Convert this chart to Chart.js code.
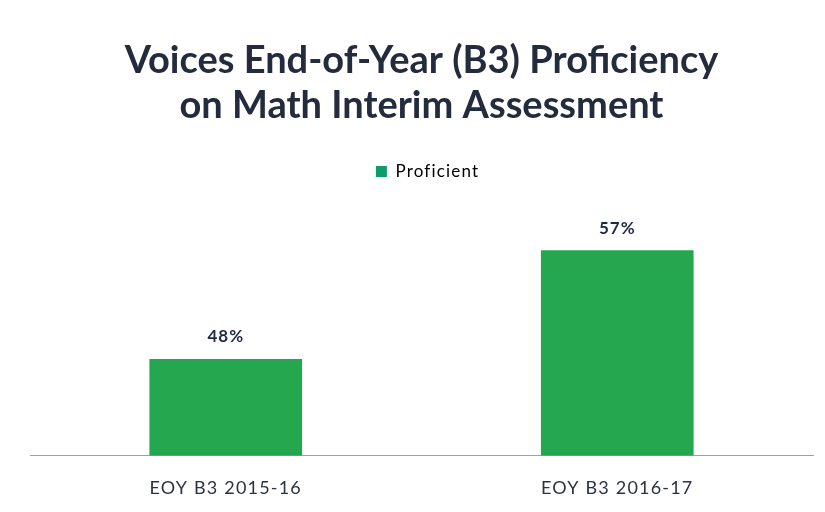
<!DOCTYPE html>
<html lang="en">
<head>
<meta charset="UTF-8">
<title>Voices EOY Proficiency</title>
<script src="https://cdn.jsdelivr.net/npm/chart.js"></script>
<style>
  html, body { margin:0; padding:0; background:#fff; }
  #wrap { width:825px; height:512px; }
</style>
</head>
<body>
<div id="wrap"><canvas id="chart"></canvas></div>
<script>
const categories = ['EOY B3 2015-16', 'EOY B3 2016-17'];
const proficient = [48, 57];
const titleLines = ['Voices End-of-Year (B3) Proficiency', 'on Math Interim Assessment'];

// scanned original has loosely spaced small text
const spacing = {
  id: 'spacing',
  beforeDraw(chart) {
    chart.ctx.letterSpacing = '1.2px';
  }
};

// title drawn by hand so it keeps normal spacing
const bigTitle = {
  id: 'bigTitle',
  afterDraw(chart) {
    const ctx = chart.ctx;
    ctx.save();
    ctx.letterSpacing = '0px';
    ctx.font = 'bold 38px Lato';
    ctx.fillStyle = '#232b3c';
    ctx.textAlign = 'center';
    ctx.textBaseline = 'middle';
    titleLines.forEach((line, i) => {
      ctx.fillText(line, chart.width / 2 + 9, 61 + i * 45);
    });
    ctx.restore();
  }
};

// % labels above each bar
const valueLabels = {
  id: 'valueLabels',
  afterDatasetsDraw(chart) {
    const ctx = chart.ctx;
    const meta = chart.getDatasetMeta(0);
    ctx.save();
    ctx.letterSpacing = '1px';
    ctx.font = 'bold 17px Lato';
    ctx.fillStyle = '#1e2a44';
    ctx.textAlign = 'center';
    ctx.textBaseline = 'middle';
    meta.data.forEach((bar, i) => {
      ctx.fillText(proficient[i] + '%', bar.x, bar.y - 22);
    });
    ctx.restore();
  }
};

new Chart(document.getElementById('chart'), {
  type: 'bar',
  data: {
    labels: categories,
    datasets: [{
      label: 'Proficient',
      data: proficient,
      backgroundColor: '#24a74f',
      categoryPercentage: 1,
      barPercentage: 0.39
    }]
  },
  options: {
    responsive: true,
    maintainAspectRatio: false,
    animation: false,
    layout: { padding: { left: 30, right: 12, top: 153, bottom: -1 } },
    plugins: {
      title: { display: false },
      legend: {
        display: true,
        labels: {
          color: '#2f3648',
          font: { family: 'Lato', size: 17 },
          boxWidth: 11,
          boxHeight: 11,
          padding: 10,
          generateLabels() {
            return [{ text: 'Proficient', fillStyle: '#0e9c6c', strokeStyle: '#0e9c6c', lineWidth: 0 }];
          }
        }
      },
      tooltip: { enabled: false }
    },
    scales: {
      x: {
        grid: { display: false },
        border: { display: true, color: '#a0a0a0', dash: [5, 3], width: 1 },
        ticks: { color: '#2b3245', font: { family: 'Lato', size: 18 }, padding: 14, maxRotation: 0 }
      },
      y: {
        display: false,
        min: 40,
        max: 62
      }
    }
  },
  plugins: [spacing, bigTitle, valueLabels]
});
</script>
</body>
</html>
